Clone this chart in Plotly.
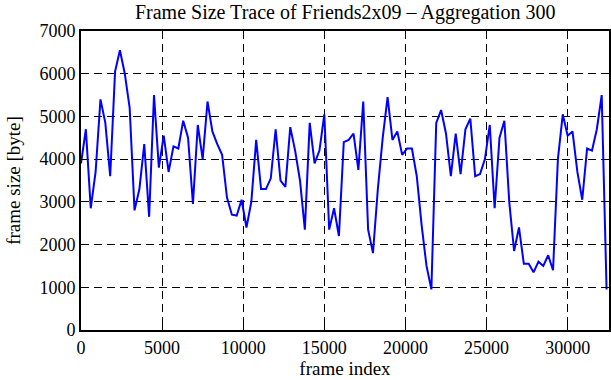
import plotly.graph_objects as go

title_text = "Frame Size Trace of Friends2x09 \u2013 Aggregation 300"
x_label = "frame index"
y_label = "frame size [byte]"
aggregation = 300

frame_sizes = [
    3900, 4700, 2850, 3700, 5400, 4850, 3600, 6050, 6550, 6000,
    5200, 2800, 3300, 4350, 2650, 5500, 3800, 4550, 3700, 4300,
    4250, 4900, 4500, 2950, 4800, 4000, 5350, 4650, 4350, 4100,
    3100, 2700, 2680, 3050, 2400, 3000, 4450, 3300, 3300, 3550,
    4700, 3500, 3350, 4750, 4200, 3500, 2350, 4850, 3900, 4200,
    5050, 2350, 2850, 2200, 4400, 4450, 4600, 3750, 5350, 2350,
    1800, 3300, 4500, 5450, 4450, 4650, 4100, 4250, 4250, 3600,
    2450, 1500, 950, 4850, 5150, 4600, 3600, 4600, 3650, 4700,
    4950, 3600, 3650, 4000, 4800, 2850, 4500, 4900, 3000, 1850,
    2400, 1550, 1550, 1350, 1600, 1500, 1750, 1400, 4000, 5050,
    4550, 4650, 3700, 3050, 4250, 4200, 4700, 5500, 950,
]
frame_index = [i * aggregation for i in range(len(frame_sizes))]

x_ticks = [0, 5000, 10000, 15000, 20000, 25000, 30000]
y_ticks = [0, 1000, 2000, 3000, 4000, 5000, 6000, 7000]

font_family = "Liberation Serif"

fig = go.Figure()
fig.add_trace(go.Scatter(
    x=frame_index, y=frame_sizes, mode="lines",
    line=dict(color="#0000ff", width=2),
    showlegend=False,
))

axis_common = dict(
    showline=True, linewidth=2, linecolor="black", mirror="allticks",
    ticks="inside", ticklen=6, tickwidth=1, tickcolor="black",
    showgrid=True, gridcolor="black", gridwidth=1, griddash="8px,5px",
    zeroline=False, tickformat="d", automargin=False,
    tickfont=dict(family=font_family, size=18, color="black"),
)

fig.update_layout(
    width=611, height=380,
    margin=dict(l=81, r=2, t=31, b=50),
    paper_bgcolor="white", plot_bgcolor="white",
    font=dict(family=font_family, color="black"),
    title=dict(text=title_text, x=0.565, xanchor="center",
               y=1 - 12 / 380, yanchor="middle", yref="container",
               font=dict(family=font_family, size=20, color="black")),
    xaxis=dict(range=[0, 32550], tickvals=x_ticks,
               title=dict(text=x_label, standoff=1,
                          font=dict(family=font_family, size=19)),
               **axis_common),
    yaxis=dict(range=[0, 7000], tickvals=y_ticks,
               title=dict(text=y_label, standoff=14,
                          font=dict(family=font_family, size=19)),
               **axis_common),
)

fig.write_html("out.html", config={"displayModeBar": False},
               post_script="document.body.style.margin='0';")
